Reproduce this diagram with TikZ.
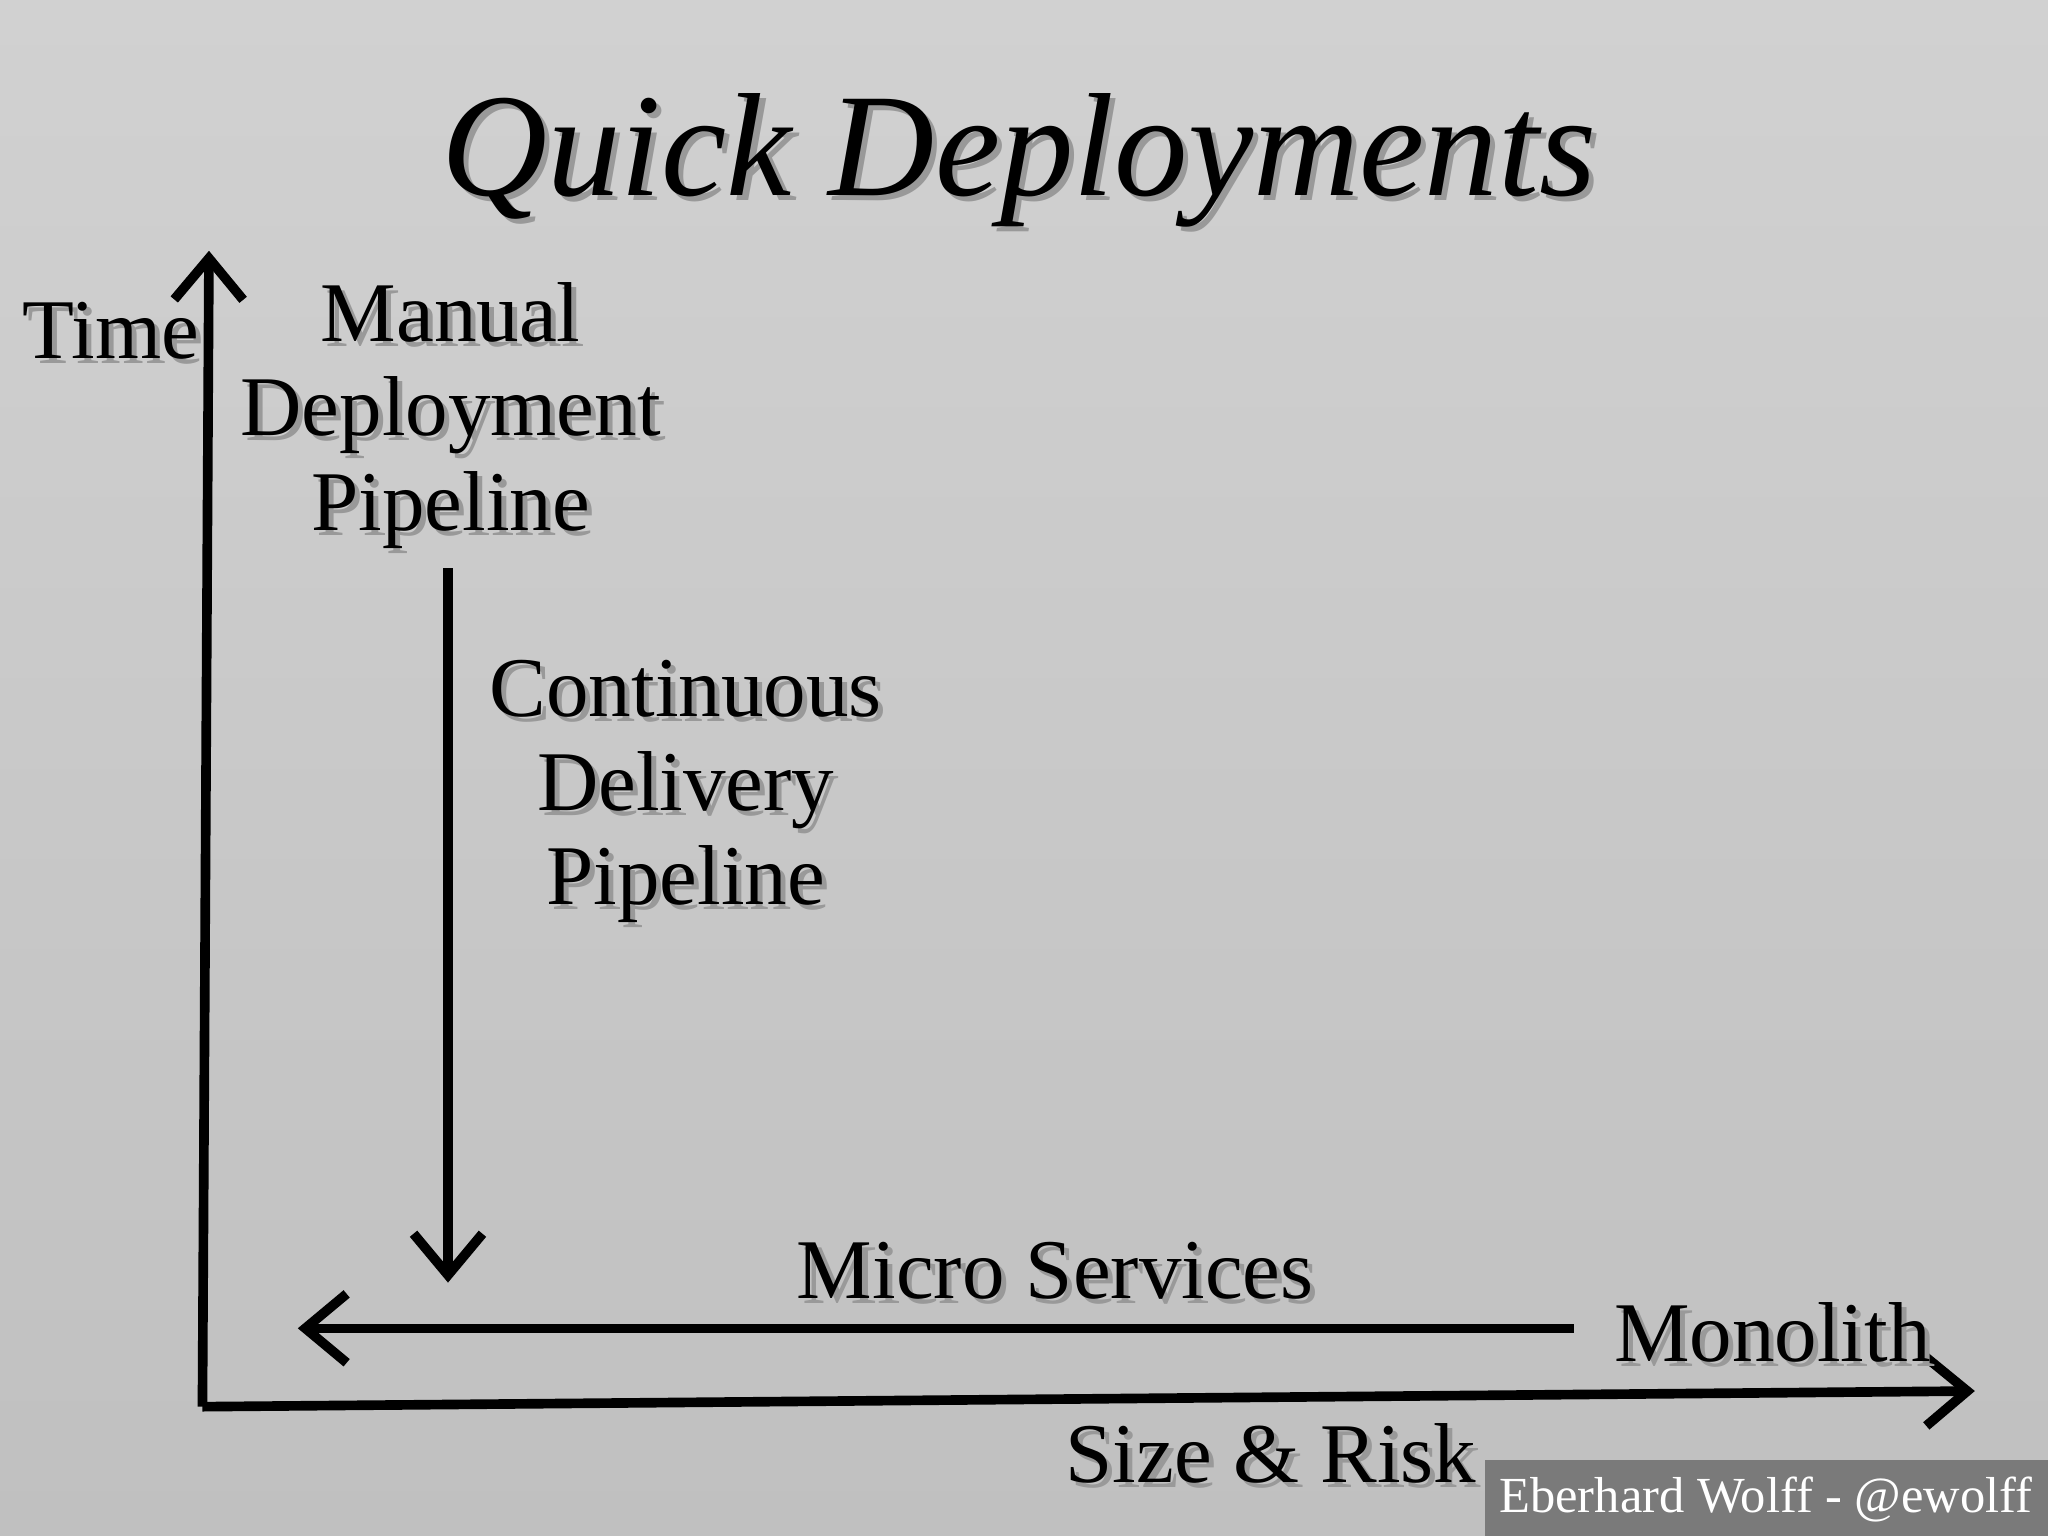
\documentclass[tikz,border=0pt]{standalone}
\usepackage{fontspec}
\setmainfont{Liberation Serif}
\usetikzlibrary{arrows.meta}
\newcommand\shtx[1]{\makebox[0pt][l]{\hspace{1.1pt}\raisebox{-1.1pt}{\color{black!40}#1}}#1}
\begin{document}
\begin{tikzpicture}[x=0.01cm,y=-0.01cm,
  lbl/.style={font=\fontsize{18.5}{20.5}\selectfont,align=center,inner sep=0pt},
  axis/.style={line width=2.1pt,-{Straight Barb[length=9pt,width=15pt,line width=2.1pt]}}]
\shade[top color={rgb,255:red,209;green,209;blue,209},bottom color={rgb,255:red,192;green,192;blue,192}] (0,0) rectangle (1568,1176);
\useasboundingbox (0,0) rectangle (1568,1176);
\node[inner sep=0pt,font=\fontsize{32}{36}\selectfont\itshape] (title) at (780,125) {\shtx{Quick Deployments}};
\coordinate (o) at (155,1077);
\coordinate (ty) at (160,192);
\coordinate (tx) at (1512,1065);
\draw[axis] (o) -- (ty);
\draw[axis] (o) -- (tx);
\node[lbl] (time) at (85,255) {\shtx{Time}};
\node[lbl] (man) at (345,320) {\shtx{Manual}\\\shtx{Deployment}\\\shtx{Pipeline}};
\node[lbl] (cd) at (525,608) {\shtx{Continuous}\\\shtx{Delivery}\\\shtx{Pipeline}};
\coordinate (ds) at (343,435);
\coordinate (de) at (343,982);
\draw[axis] (ds) -- (de);
\coordinate (ls) at (1205,1017);
\coordinate (le) at (228,1017);
\draw[axis] (ls) -- (le);
\node[lbl] (ms) at (808,975) {\shtx{Micro Services}};
\node[lbl] (mono) at (1357,1022) {\shtx{Monolith}};
\node[lbl] (sr) at (973,1115) {\shtx{Size \& Risk}};
\fill[black!52] (1137,1118) rectangle (1568,1176);
\node[inner sep=0pt,text=white,font=\fontsize{11}{13}\selectfont] (foot) at (1352,1148) {Eberhard Wolff - @ewolff};
\end{tikzpicture}
\end{document}
